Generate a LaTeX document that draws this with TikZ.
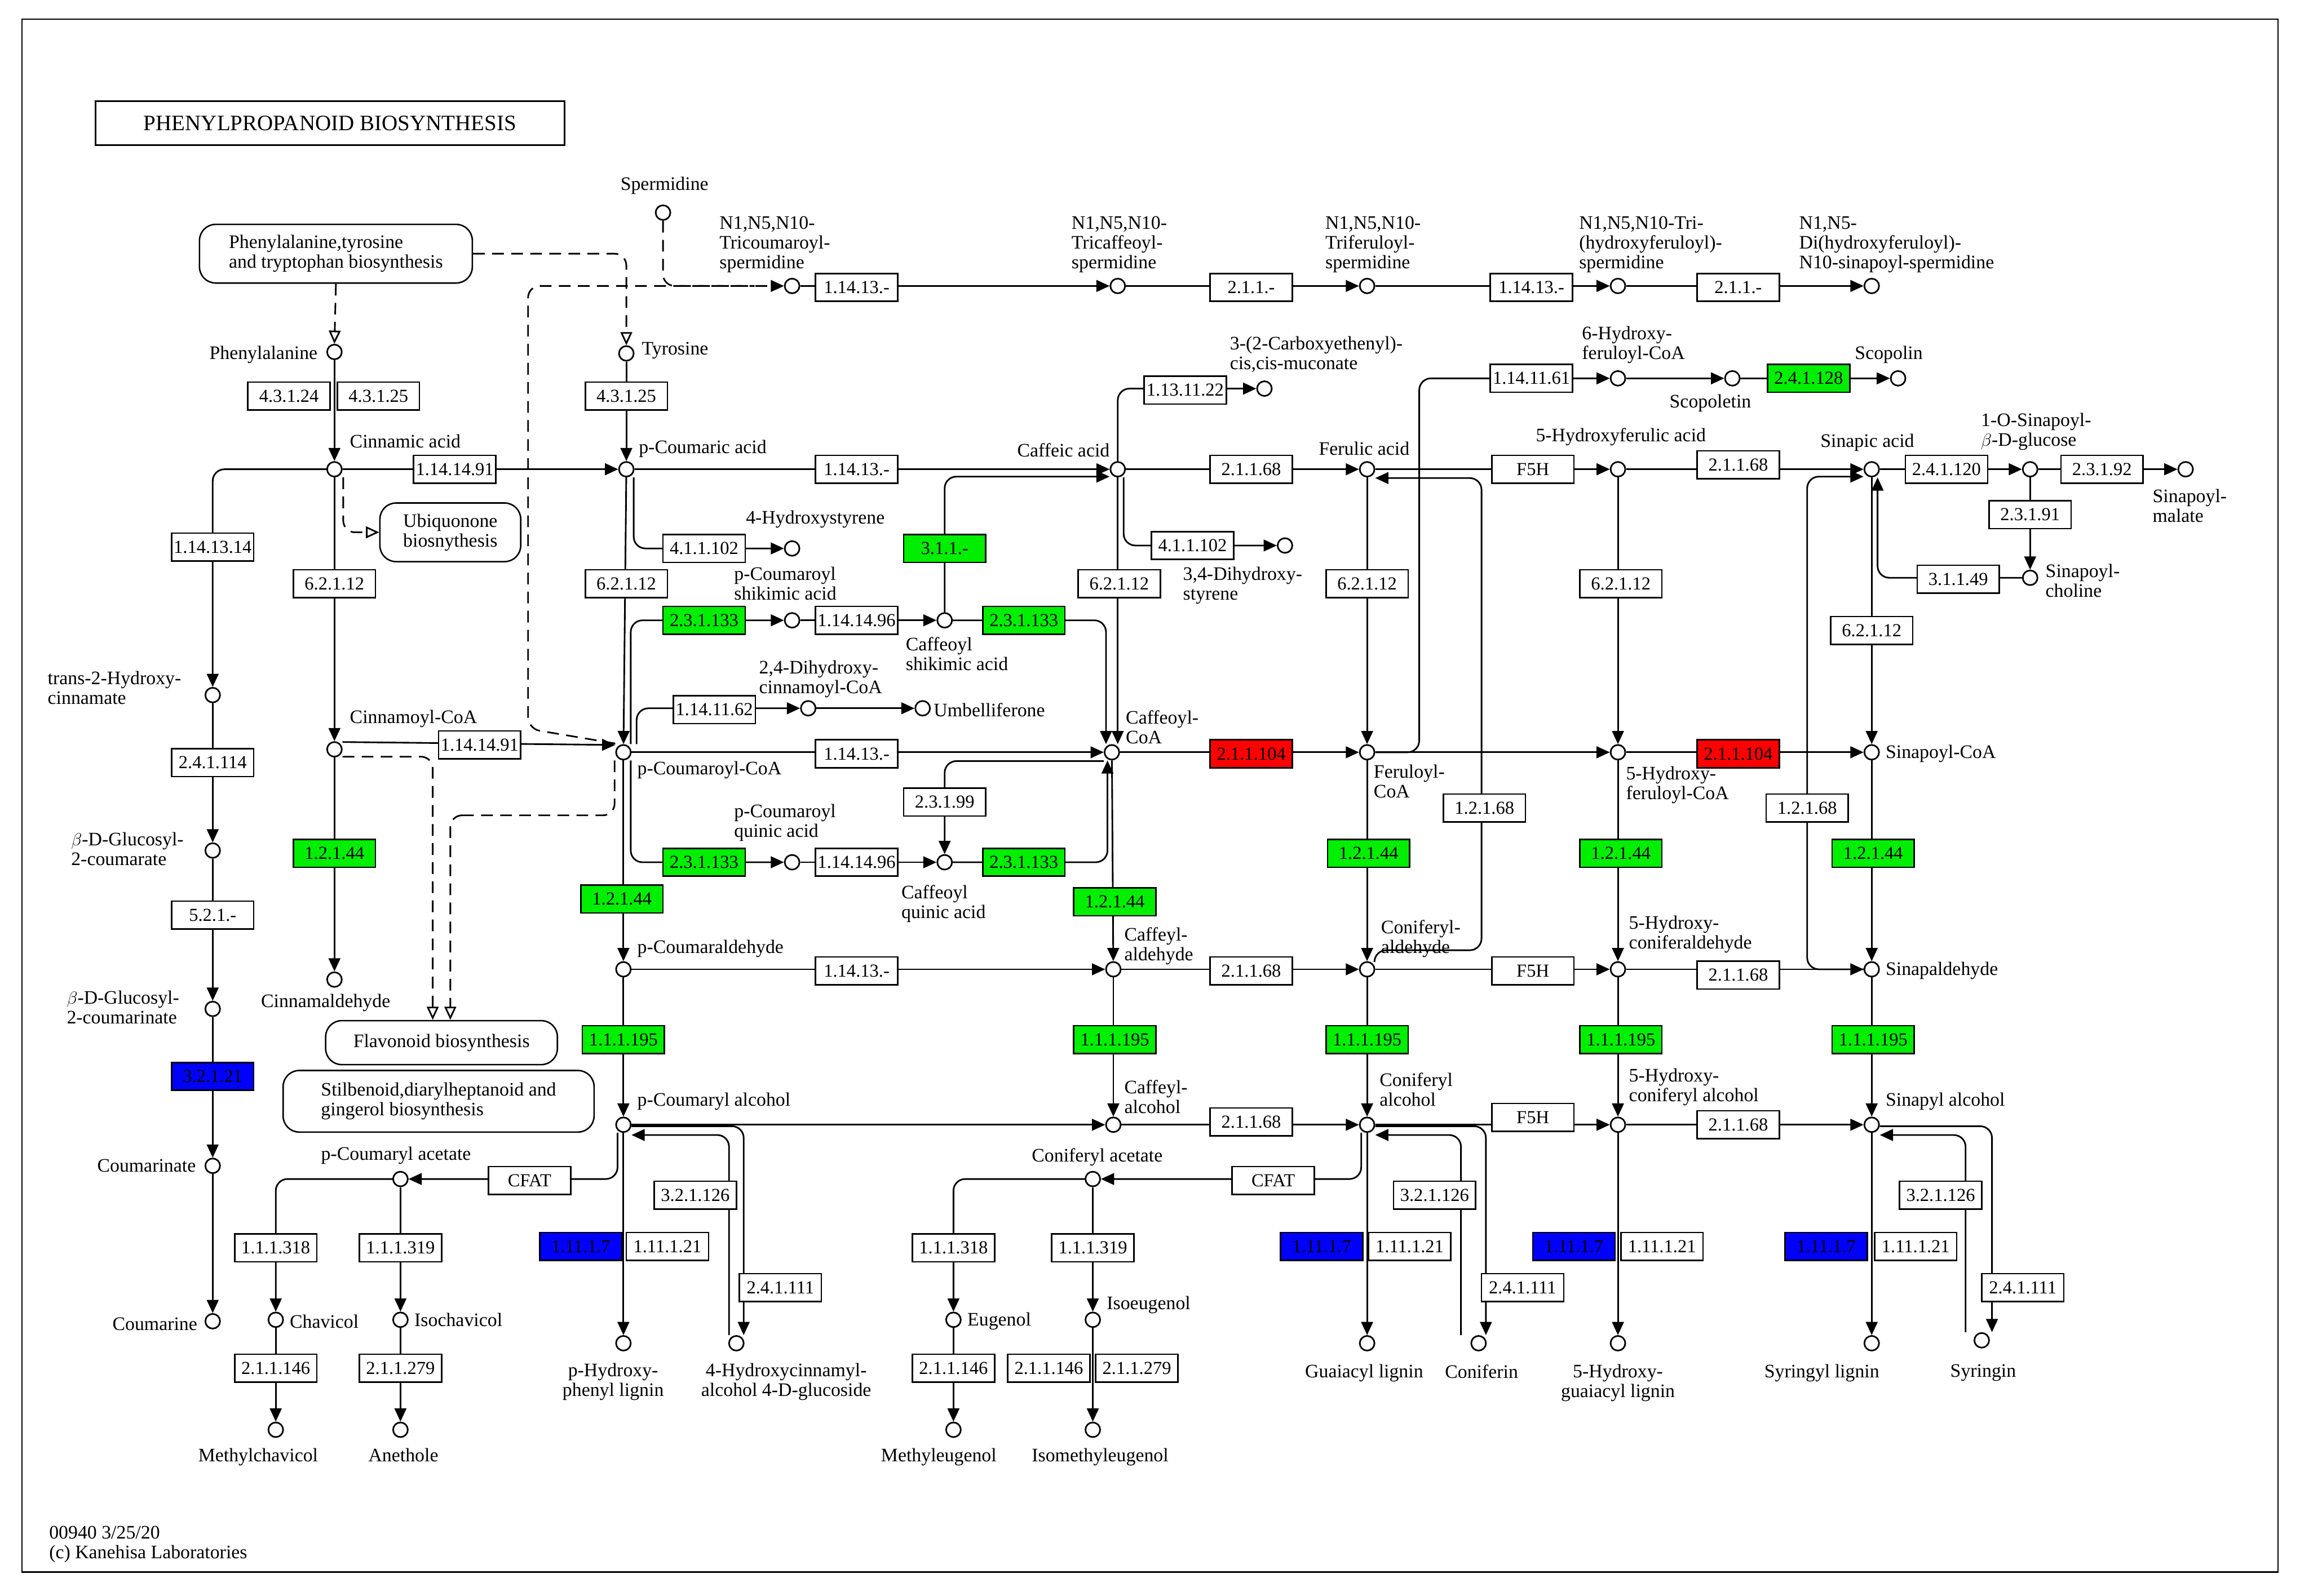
\documentclass[tikz,border=0pt]{standalone}
\usepackage{fontspec}
\setmainfont{Liberation Serif}
\usetikzlibrary{arrows.meta}
\definecolor{kg}{RGB}{0,238,0}
\definecolor{kr}{RGB}{255,0,0}
\definecolor{kb}{RGB}{0,0,255}
\newcommand{\fsz}{\fontsize{13}{13.5}\selectfont}
\newcommand{\efsz}{\fontsize{12.5}{13}\selectfont}
\begin{document}
\begin{tikzpicture}[x=1pt,y=-1pt,line width=1.1pt,
 cpd/.style={circle,draw,fill=white,minimum size=10pt,inner sep=0pt,line width=1.1pt},
 enz/.style={draw,fill=white,minimum width=56pt,minimum height=19pt,inner sep=1pt,font=\efsz,line width=1pt},
 g/.style={enz,fill=kg}, rd/.style={enz,fill=kr}, bl/.style={enz,fill=kb},
 lbl/.style={font=\fsz,inner sep=0pt,align=left},
 lblc/.style={font=\fsz,inner sep=0pt,align=center},
 ar/.style={-{Triangle[length=9pt,width=8pt]}},
 oar/.style={-{Triangle[open,length=9pt,width=8pt]}},
 dsh/.style={dash pattern=on 8pt off 5pt},
 rc/.style={rounded corners=8pt},
 map/.style={draw,rounded corners=11pt,font=\fsz,align=left,fill=white,line width=1pt}]
\useasboundingbox (0,0) rectangle (1568,1088);
\draw[line width=1pt] (15,13) rectangle (1553,1072);
\node[draw,line width=1.2pt,minimum width=320pt,minimum height=30pt,font=\fontsize{15}{16}\selectfont] (title) at (225,84) {PHENYLPROPANOID BIOSYNTHESIS};
\node[lbl,anchor=north west] (foot) at (33,1040) {00940 3/25/20\\(c) Kanehisa Laboratories};
% map nodes
\node[map,minimum width=186pt,minimum height=40pt] (ptt) at (229,173) {Phenylalanine,tyrosine\\and tryptophan biosynthesis};
\node[map,minimum width=96pt,minimum height=40pt] (ubi) at (307,363) {Ubiquonone\\biosnythesis};
\node[map,minimum width=158pt,minimum height=30pt] (flav) at (301,711) {Flavonoid biosynthesis};
\node[map,minimum width=212pt,minimum height=42pt] (stil) at (299,751) {Stilbenoid,diarylheptanoid and\\gingerol biosynthesis};
% compounds
\foreach \n/\x/\y in {spd/452/145,tcs/540/195,tcaf/762/195,tfer/932/195,thf/1103/195,dhs/1276/195,
 phe/228/240,tyr/427/241,cin/228/320,pcou/427/320,caf/762/320,fer/932/320,hfa/1103/320,sin/1276/320,sgl/1384/320,smal/1490/320,schol/1384/394,
 cem/862/265,hfc/1103/258,scpt/1181/258,scpn/1294/258,hst/540/374,dhst/876/372,pcs/540/423,cfs/644/423,
 t2h/145/474,dhc/551/483,umb/629/483,cinc/228/511,pcc/425/513,cafc/758/513,ferc/932/513,hfc5/1103/513,sinc/1276/513,
 gcou/145/580,pcq/540/588,cfq/644/588,cald/228/668,pcal/425/661,cfal/759/661,coal/932/661,hcal/1103/661,sial/1276/661,
 gcoum/145/688,pcoh/425/767,cfoh/759/767,cooh/932/767,hcoh/1103/767,sioh/1276/767,cmn/145/795,pca/273/804,cfa/745/804,
 cmr/145/901,chv/188/900,ichv/273/900,eug/650/900,ieug/745/900,hpl/425/916,hcg/502/916,gl/932/916,cfn/1008/916,hgl/1103/916,syl/1276/916,syr/1351/914,
 mchv/188/975,anet/273/975,meug/650/975,imeug/745/975}
 {\node[cpd] (\n) at (\x,\y) {};}
% compound labels
\node[lblc,anchor=south] (L1) at (453,133) {Spermidine};
\node[lbl,anchor=north west] (L2) at (490,147) {N1,N5,N10-\\Tricoumaroyl-\\spermidine};
\node[lbl,anchor=north west] (L3) at (730,147) {N1,N5,N10-\\Tricaffeoyl-\\spermidine};
\node[lbl,anchor=north west] (L4) at (903,147) {N1,N5,N10-\\Triferuloyl-\\spermidine};
\node[lbl,anchor=north west] (L5) at (1076,147) {N1,N5,N10-Tri-\\(hydroxyferuloyl)-\\spermidine};
\node[lbl,anchor=north west] (L6) at (1226,147) {N1,N5-\\Di(hydroxyferuloyl)-\\N10-sinapoyl-spermidine};
\node[lbl,anchor=east] (L7) at (217,242) {Phenylalanine};
\node[lbl,anchor=west] (L8) at (437,239) {Tyrosine};
\node[lbl,anchor=west] (L9) at (238,301) {Cinnamic acid};
\node[lbl,anchor=west] (L10) at (435,306) {p-Coumaric acid};
\node[lbl,anchor=east] (L11) at (757,307) {Caffeic acid};
\node[lblc] (L12) at (930,306) {Ferulic acid};
\node[lblc] (L13) at (1105,298) {5-Hydroxyferulic acid};
\node[lblc] (L14) at (1273,302) {Sinapic acid};
\node[lbl,anchor=north west] (L15) at (1350,281) {1-O-Sinapoyl-\\$\beta$-D-glucose};
\node[lbl,anchor=north west] (L16) at (1467,333) {Sinapoyl-\\malate};
\node[lbl,anchor=north west] (L17) at (1394,384) {Sinapoyl-\\choline};
\node[lbl,anchor=north west] (L18) at (838,229) {3-(2-Carboxyethenyl)-\\cis,cis-muconate};
\node[lbl,anchor=north west] (L19) at (1078,222) {6-Hydroxy-\\feruloyl-CoA};
\node[lblc] (L20) at (1166,275) {Scopoletin};
\node[lbl,anchor=west] (L21) at (1264,242) {Scopolin};
\node[lbl,anchor=west] (L22) at (508,354) {4-Hydroxystyrene};
\node[lbl,anchor=north west] (L23) at (806,386) {3,4-Dihydroxy-\\styrene};
\node[lbl,anchor=north west] (L24) at (500,386) {p-Coumaroyl\\shikimic acid};
\node[lbl,anchor=north west] (L25) at (617,434) {Caffeoyl\\shikimic acid};
\node[lbl,anchor=north west] (L26) at (32,457) {trans-2-Hydroxy-\\cinnamate};
\node[lbl,anchor=north west] (L27) at (517,450) {2,4-Dihydroxy-\\cinnamoyl-CoA};
\node[lbl,anchor=west] (L28) at (636,484) {Umbelliferone};
\node[lbl,anchor=west] (L29) at (238,490) {Cinnamoyl-CoA};
\node[lbl,anchor=west] (L30) at (434,525) {p-Coumaroyl-CoA};
\node[lbl,anchor=north west] (L31) at (767,484) {Caffeoyl-\\CoA};
\node[lbl,anchor=north west] (L32) at (936,521) {Feruloyl-\\CoA};
\node[lbl,anchor=north west] (L33) at (1108,522) {5-Hydroxy-\\feruloyl-CoA};
\node[lbl,anchor=west] (L34) at (1285,514) {Sinapoyl-CoA};
\node[lbl,anchor=north west] (L35) at (48,567) {$\beta$-D-Glucosyl-\\2-coumarate};
\node[lbl,anchor=north west] (L36) at (500,548) {p-Coumaroyl\\quinic acid};
\node[lbl,anchor=north west] (L37) at (614,603) {Caffeoyl\\quinic acid};
\node[lblc] (L38) at (222,684) {Cinnamaldehyde};
\node[lbl,anchor=west] (L39) at (434,647) {p-Coumaraldehyde};
\node[lbl,anchor=north west] (L40) at (766,632) {Caffeyl-\\aldehyde};
\node[lbl,anchor=north west] (L41) at (941,627) {Coniferyl-\\aldehyde};
\node[lbl,anchor=north west] (L42) at (1110,624) {5-Hydroxy-\\coniferaldehyde};
\node[lbl,anchor=west] (L43) at (1285,662) {Sinapaldehyde};
\node[lbl,anchor=north west] (L44) at (45,675) {$\beta$-D-Glucosyl-\\2-coumarinate};
\node[lbl,anchor=west] (L45) at (434,751) {p-Coumaryl alcohol};
\node[lbl,anchor=north west] (L46) at (766,736) {Caffeyl-\\alcohol};
\node[lbl,anchor=north west] (L47) at (940,731) {Coniferyl\\alcohol};
\node[lbl,anchor=north west] (L48) at (1110,728) {5-Hydroxy-\\coniferyl alcohol};
\node[lbl,anchor=west] (L49) at (1285,751) {Sinapyl alcohol};
\node[lbl,anchor=east] (L50) at (134,795) {Coumarinate};
\node[lblc] (L51) at (270,788) {p-Coumaryl acetate};
\node[lblc] (L52) at (748,789) {Coniferyl acetate};
\node[lbl,anchor=east] (L53) at (135,903) {Coumarine};
\node[lbl,anchor=west] (L54) at (197,901) {Chavicol};
\node[lbl,anchor=west] (L55) at (282,900) {Isochavicol};
\node[lbl,anchor=west] (L56) at (659,901) {Eugenol};
\node[lbl,anchor=west] (L57) at (754,890) {Isoeugenol};
\node[lblc,anchor=north] (L58) at (418,929) {p-Hydroxy-\\phenyl lignin};
\node[lblc,anchor=north] (L59) at (536,929) {4-Hydroxycinnamyl-\\alcohol 4-D-glucoside};
\node[lblc,anchor=north] (L60) at (930,930) {Guaiacyl lignin};
\node[lblc,anchor=north] (L61) at (1010,930) {Coniferin};
\node[lblc,anchor=north] (L62) at (1103,930) {5-Hydroxy-\\guaiacyl lignin};
\node[lblc,anchor=north] (L63) at (1242,930) {Syringyl lignin};
\node[lblc,anchor=north] (L64) at (1352,930) {Syringin};
\node[lblc,anchor=north] (L65) at (176,987) {Methylchavicol};
\node[lblc,anchor=north] (L66) at (275,987) {Anethole};
\node[lblc,anchor=north] (L67) at (640,987) {Methyleugenol};
\node[lblc,anchor=north] (L68) at (750,987) {Isomethyleugenol};
% dashed connectors
\coordinate (dk) at (360,497);
\draw[dsh,ar,rc] (spd.south) |- (tcs.west);
\draw[dsh,rc] ([yshift=6]pcc.west) -- (dk) |- ([xshift=-20]tcs.west);
\draw[dsh,oar] (ptt.south) -- (phe.north);
\draw[dsh,oar,rc] (ptt.east) -| (tyr.north);
\draw[dsh,oar,rc] ([xshift=6]cin.south) |- (ubi.west);
\draw[dsh,oar,rc] ([yshift=-5]cinc.east) -| ([xshift=-6]flav.north);
\draw[dsh,oar,rc] ([xshift=-6]pcc.south) |- (320,556) -| ([xshift=6]flav.north);
% solid connectors
\foreach \a/\b in {phe/cin,tyr/pcou,cin/cinc,cinc/cald,pcou/pcc,pcc/pcal,pcal/pcoh,pcoh/hpl,cafc/cfal,cfal/cfoh,
 fer/ferc,ferc/coal,coal/cooh,cooh/gl,hfa/hfc5,hfc5/hcal,hcal/hcoh,hcoh/hgl,sin/sinc,sinc/sial,sial/sioh,sioh/syl,
 t2h/gcou,gcou/gcoum,gcoum/cmn,cmn/cmr,sgl/schol,cin/pcou,pcou/caf,caf/fer,fer/hfa,hfa/sin,sin/sgl,sgl/smal,
 tcs/tcaf,tcaf/tfer,tfer/thf,thf/dhs,pcc/cafc,cafc/ferc,ferc/hfc5,hfc5/sinc,pcal/cfal,cfal/coal,coal/hcal,hcal/sial,
 pcoh/cfoh,cfoh/cooh,cooh/hcoh,hcoh/sioh,hfc/scpt,scpt/scpn,pcs/cfs,dhc/umb,pcq/cfq,pca/ichv,chv/mchv,ichv/anet,cfa/ieug,eug/meug,ieug/imeug}
 {\draw[ar] (\a) -- (\b);}
\draw[ar] (caf.south) -- (caf.south |- cafc.north);
\draw[ar] ([yshift=5]cinc.east) -- ([yshift=5]pcc.west);
\draw[ar,rc] (cin.west) -| (t2h.north);
\draw[ar,rc] (caf.north) |- (cem.west);
\draw[ar,rc] ([xshift=4]caf.south) |- (dhst.west);
\draw[ar,rc] ([xshift=5]pcou.south) |- (hst.west);
\draw[ar,rc] (ferc.east) -- ++(30,0) |- (hfc.west);
\draw[ar,rc] (cfs.north) |- ([yshift=-5]caf.west);
\draw[ar,rc] (cfs.east) -| ([xshift=-4]cafc.north);
\draw[ar,rc] (cfq.east) -| ([xshift=-3]cafc.south);
\draw[ar,rc] ([yshift=-6]cafc.west) -| (cfq.north);
\draw[ar,rc] ([xshift=5]pcc.north) |- (pcs.west);
\draw[ar,rc] ([xshift=9]pcc.north) |- (dhc.west);
\draw[ar,rc] ([xshift=5]pcc.south) |- (pcq.west);
\draw[ar,rc] ([xshift=5]coal.north) |- (1010,648) |- ([yshift=-6]fer.east);
\draw[ar,rc] (sial.west) -| (1232,325) -- ([yshift=-5]sin.west);
\draw[ar,rc] (schol.west) -| ([xshift=4]sin.south);
\draw[ar,rc] ([xshift=-4]pcoh.south) |- (pca.east);
\draw[ar,rc] ([xshift=-4]cooh.south) |- (cfa.east);
\draw[ar,rc] (pca.west) -| (chv.north);
\draw[ar,rc] (cfa.west) -| (eug.north);
\draw[ar,rc] ([yshift=-1]pcoh.east) -| ([xshift=5]hcg.north);
\draw[ar,rc] ([xshift=-5]hcg.north) |- ([yshift=-7]pcoh.east);
\draw[ar,rc] ([yshift=-1]cooh.east) -| ([xshift=5]cfn.north);
\draw[ar,rc] ([xshift=-12]cfn.north) |- ([yshift=-7]cooh.east);
\draw[ar,rc] ([yshift=-1]sioh.east) -| ([xshift=7]syr.north);
\draw[ar,rc] ([xshift=-11]syr.north) |- ([yshift=-7]sioh.east);
% enzymes
\foreach \n/\x/\y/\t in {e1/584/196/1.14.13.-,e2/853/196/2.1.1.-,e3/1044/196/1.14.13.-,e4/1185/196/2.1.1.-,
 e5/197/270/4.3.1.24,e6/258/270/4.3.1.25,e7/427/270/4.3.1.25,e8/310/320/1.14.14.91,e9/584/320/1.14.13.-,e10/808/266/1.13.11.22,
 e11/853/320/2.1.1.68,e12/1045/320/F5H,e13/1185/317/2.1.1.68,e14/1327/320/2.4.1.120,e15/1433/320/2.3.1.92,e16/1384/351/2.3.1.91,
 e17/1335/395/3.1.1.49,e18/1044/258/1.14.11.61,e19/145/373/1.14.13.14,e20/228/398/6.2.1.12,e21/480/374/4.1.1.102,e22/427/398/6.2.1.12,
 e23/763/398/6.2.1.12,e24/813/372/4.1.1.102,e25/932/398/6.2.1.12,e26/1105/398/6.2.1.12,e27/1276/430/6.2.1.12,e28/584/423/1.14.14.96,
 e29/487/484/1.14.11.62,e30/327/508/1.14.14.91,e31/584/514/1.14.13.-,e32/145/520/2.4.1.114,e33/1012/551/1.2.1.68,e34/1232/551/1.2.1.68,
 e35/644/547/2.3.1.99,e36/145/624/5.2.1.-,e37/584/588/1.14.14.96,e38/584/662/1.14.13.-,e39/853/662/2.1.1.68,e40/1045/662/F5H,
 e41/1185/665/2.1.1.68,e42/853/765/2.1.1.68,e43/1045/762/F5H,e44/1185/767/2.1.1.68,e45/361/805/CFAT,e46/868/805/CFAT,
 e47/474/815/3.2.1.126,e48/978/815/3.2.1.126,e49/1323/815/3.2.1.126,e50/188/851/1.1.1.318,e51/273/851/1.1.1.319,e52/650/851/1.1.1.318,
 e53/745/851/1.1.1.319,e54/455/850/1.11.1.21,e55/961/850/1.11.1.21,e56/1133/850/1.11.1.21,e57/1306/850/1.11.1.21,
 e58/532/878/2.4.1.111,e59/1038/878/2.4.1.111,e60/1379/878/2.4.1.111,e61/188/933/2.1.1.146,e62/273/933/2.1.1.279,
 e63/650/933/2.1.1.146,e64/715/933/2.1.1.146,e65/775/933/2.1.1.279}
 {\node[enz] (\n) at (\x,\y) {\t};}
\foreach \n/\x/\y/\t in {g1/1233/258/2.4.1.128,g2/644/374/3.1.1.-,g3/480/423/2.3.1.133,g4/698/423/2.3.1.133,g5/480/588/2.3.1.133,g6/698/588/2.3.1.133,
 g7/228/582/1.2.1.44,g8/424/613/1.2.1.44,g9/760/615/1.2.1.44,g10/933/582/1.2.1.44,g11/1105/582/1.2.1.44,g12/1277/582/1.2.1.44,
 g13/425/709/1.1.1.195,g14/760/709/1.1.1.195,g15/932/709/1.1.1.195,g16/1105/709/1.1.1.195,g17/1277/709/1.1.1.195}
 {\node[g] (\n) at (\x,\y) {\t};}
\node[rd] (r1) at (853,514) {2.1.1.104};
\node[rd] (r2) at (1185,514) {2.1.1.104};
\foreach \n/\x/\y/\t in {b1/145/734/3.2.1.21,b2/396/850/1.11.1.7,b3/901/850/1.11.1.7,b4/1073/850/1.11.1.7,b5/1245/850/1.11.1.7}
 {\node[bl] (\n) at (\x,\y) {\t};}
\end{tikzpicture}
\end{document}
